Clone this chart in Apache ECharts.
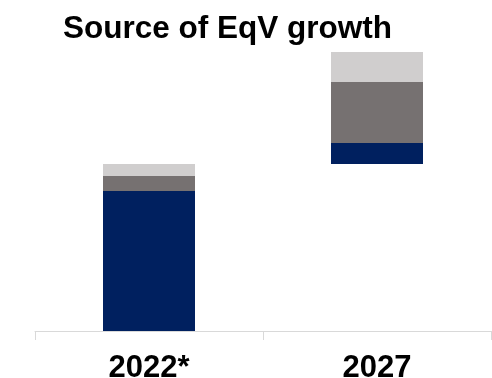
<!DOCTYPE html>
<html>
<head>
<meta charset="utf-8">
<script src="https://cdn.jsdelivr.net/npm/echarts@6/dist/echarts.min.js"></script>
<style>
  html, body { margin: 0; padding: 0; background: #ffffff; }
  #chart { width: 492px; height: 378px; }
</style>
</head>
<body>
<div id="chart"></div>
<script>
// Equity value bridge: 2022 level, then the 2027 growth stacked on top of it
const categories = ['2022*', '2027'];
const operations = [14.0, 2.1];   // navy
const leverage   = [1.5, 6.1];    // dark grey
const multiple   = [1.2, 3.0];    // light grey

// 2027 components float on the 2022 total
const start2022 = operations[0] + leverage[0] + multiple[0];
const base = [0, start2022];

const chart = echarts.init(document.getElementById('chart'), null, { renderer: 'canvas' });

const font = '"Liberation Sans", Arial, sans-serif';

chart.setOption({
  animation: false,
  title: {
    text: 'Source of EqV growth',
    left: 58,
    top: 8,
    textStyle: { fontFamily: font, fontWeight: 'bold', fontSize: 31.5, color: '#000000' }
  },
  grid: { left: 35, right: 1, top: 31, bottom: 47, containLabel: false, outerBoundsMode: 'none' },
  xAxis: {
    type: 'category',
    data: categories,
    boundaryGap: true,
    axisLine: { show: true, lineStyle: { color: '#d9d9d9', width: 1 } },
    axisTick: { show: true, length: 9, lineStyle: { color: '#d9d9d9' } },
    axisLabel: { margin: 22, fontFamily: font, fontWeight: 'bold', fontSize: 31, color: '#000000' }
  },
  yAxis: {
    type: 'value',
    min: 0,
    max: 30,
    show: false,
    splitLine: { show: false }
  },
  series: [
    { name: 'base', type: 'bar', stack: 'eqv', data: base, barWidth: 92,
      itemStyle: { color: 'transparent' }, silent: true },
    { name: 'Operations', type: 'bar', stack: 'eqv', data: operations, barWidth: 92,
      itemStyle: { color: '#00205f' } },
    { name: 'Leverage', type: 'bar', stack: 'eqv', data: leverage, barWidth: 92,
      itemStyle: { color: '#767171' } },
    { name: 'Multiple', type: 'bar', stack: 'eqv', data: multiple, barWidth: 92,
      itemStyle: { color: '#d0cece' } }
  ]
});
</script>
</body>
</html>
